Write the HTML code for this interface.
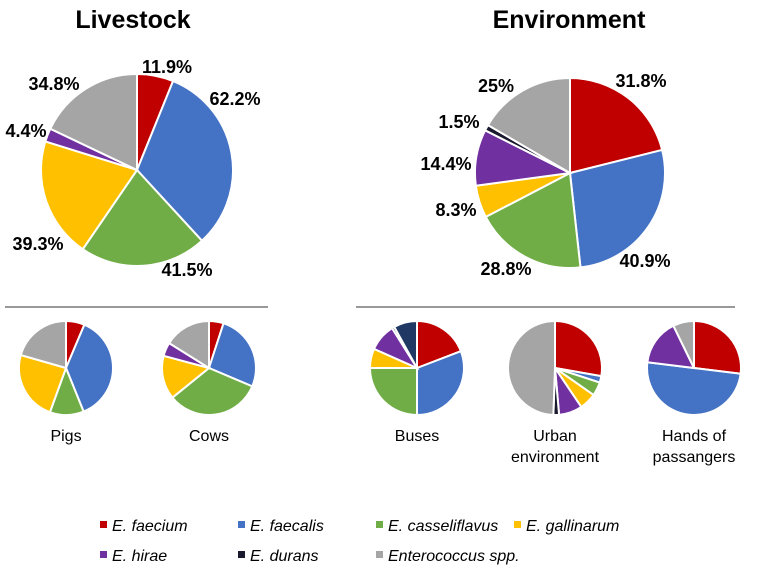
<!DOCTYPE html>
<html><head><meta charset="utf-8">
<style>
body{margin:0;background:#fff;}
svg{display:block;font-family:"Liberation Sans",sans-serif;}
</style></head>
<body>
<svg id="c" width="767" height="573" viewBox="0 0 767 573">
<text x="133" y="28" text-anchor="middle" font-size="25" font-weight="bold">Livestock</text>
<text x="569" y="28" text-anchor="middle" font-size="25" font-weight="bold">Environment</text>
<line x1="5" y1="307" x2="268" y2="307" stroke="#999" stroke-width="2"/>
<line x1="356" y1="307" x2="735" y2="307" stroke="#999" stroke-width="2"/>
<g id="pies"></g>
<g id="labels" font-size="18" font-weight="bold"></g>
<g id="names" font-size="16" text-anchor="middle"></g>
<g id="legend" font-size="16" font-style="italic"></g>
</svg>
<script>
const colors = ["#c00000","#4472c4","#70ad47","#ffc000","#7030a0","#1a1a2e","#a5a5a5","#203864"];
const livestockValues = [11.9,62.2,41.5,39.3,4.4,0,34.8];
const livestockLabels = ["11.9%","62.2%","41.5%","39.3%","4.4%","","34.8%"];
const environmentValues = [31.8,40.9,28.8,8.3,14.4,1.5,25];
const environmentLabels = ["31.8%","40.9%","28.8%","8.3%","14.4%","1.5%","25%"];
const pigsValues = [23,135,42,86,0,0,74];
const cowsValues = [18,95,118,54,17,0,58];
const busesValues = [69,111,90,24,34,3,0,29];
const urbanValues = [100,8,17,21,29,7,178];
const handsValues = [97,180,0,0,57,0,26];
const legendNames = ["E. faecium","E. faecalis","E. casseliflavus","E. gallinarum","E. hirae","E. durans","Enterococcus spp."];
const NS="http://www.w3.org/2000/svg";
function pie(name,vals,cx,cy,r){
  const g=document.getElementById('pies');
  const tot=vals.reduce((a,b)=>a+b,0);
  let a=0;
  vals.forEach((v,i)=>{
    if(!v) return;
    const a0=a/tot*2*Math.PI, a1=(a+v)/tot*2*Math.PI; a+=v;
    const x0=cx+r*Math.sin(a0), y0=cy-r*Math.cos(a0), x1=cx+r*Math.sin(a1), y1=cy-r*Math.cos(a1);
    const p=document.createElementNS(NS,'path');
    p.setAttribute('d',`M${cx},${cy}L${x0},${y0}A${r},${r} 0 ${a1-a0>Math.PI?1:0} 1 ${x1},${y1}Z`);
    p.setAttribute('fill',colors[i]);p.setAttribute('stroke','#fff');p.setAttribute('stroke-width','2');
    
    
    g.appendChild(p);
  });
}
pie('livestock',livestockValues,137,170,96);
pie('environment',environmentValues,570,173,95);
pie('pigs',pigsValues,66,368,47);
pie('cows',cowsValues,209,368,47);
pie('buses',busesValues,417,368,47);
pie('urban',urbanValues,555,368,47);
pie('hands',handsValues,694,368,47);
const lpos=[[167,73],[235,105],[187,276],[38,250],[26,137],null,[54,90]];
const epos=[[641,87],[645,267],[506,275],[456,216],[446,170],[459,128],[496,92]];
function labels(pos,labs,prefix){
  const g=document.getElementById('labels');
  labs.forEach((t,i)=>{ if(!t) return;
    const e=document.createElementNS(NS,'text');
    e.setAttribute('x',pos[i][0]);e.setAttribute('y',pos[i][1]);e.setAttribute('text-anchor','middle');
    e.textContent=t;
    
    
    g.appendChild(e);});
}
labels(lpos,livestockLabels,'livestock');
labels(epos,environmentLabels,'environment');
const nm=[["Pigs",66,441],["Cows",209,441],["Buses",417,441],["Urban",555,441],["environment",555,462],["Hands of",694,441],["passangers",694,462]];
nm.forEach(n=>{const e=document.createElementNS(NS,'text');e.setAttribute('x',n[1]);e.setAttribute('y',n[2]);e.textContent=n[0];
  
  
  document.getElementById('names').appendChild(e);});
const lx=[100,238,376,514];
legendNames.forEach((t,i)=>{
  const x=lx[i%4], y=i<4?531:561;
  const g=document.getElementById('legend');
  const r=document.createElementNS(NS,'rect');
  r.setAttribute('x',x);r.setAttribute('y',y-10);r.setAttribute('width',7);r.setAttribute('height',7);r.setAttribute('fill',colors[i]);
  
  
  g.appendChild(r);
  const e=document.createElementNS(NS,'text');e.setAttribute('x',x+12);e.setAttribute('y',y);e.textContent=t;
  
  
  g.appendChild(e);
});
</script>
</body></html>
